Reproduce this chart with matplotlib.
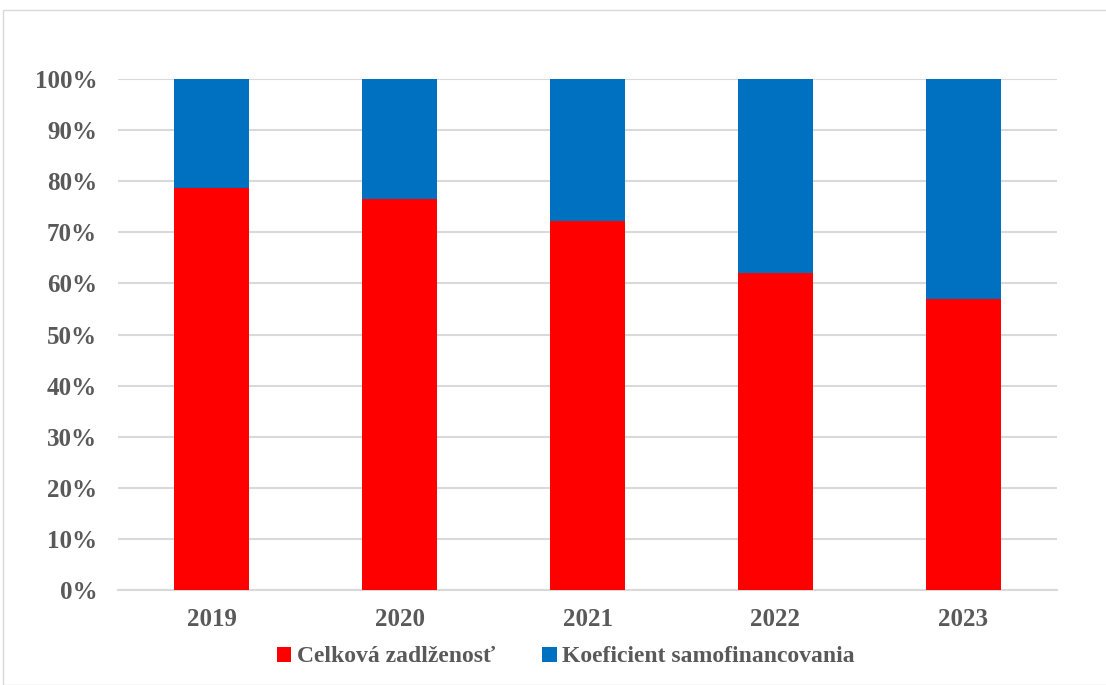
import matplotlib.pyplot as plt
from matplotlib.patches import Rectangle
from matplotlib.ticker import PercentFormatter

years = ['2019', '2020', '2021', '2022', '2023']
zadlzenost = [78.7, 76.5, 72.2, 62.0, 56.9]
samofin = [100 - v for v in zadlzenost]

red = '#FF0000'
blue = '#0070C0'
txt = '#595959'
plt.rcParams['font.family'] = ['Liberation Serif', 'DejaVu Serif']
plt.rcParams['font.weight'] = 'bold'

fig = plt.figure(figsize=(11.06, 6.85), dpi=100)
ax = fig.add_axes([118/1106, 1 - 590/685, (1057-118)/1106, (590-79)/685])

x = range(len(years))
ax.bar(x, zadlzenost, width=0.4, color=red, label='Celková zadlženosť', zorder=3)
ax.bar(x, samofin, width=0.4, bottom=zadlzenost, color=blue, label='Koeficient samofinancovania', zorder=3)

ax.set_xlim(-0.5, len(years) - 0.5)
ax.set_ylim(0, 100)
ax.set_yticks(range(0, 101, 10))
ax.yaxis.set_major_formatter(PercentFormatter(decimals=0))
ax.set_xticks(list(x))
ax.set_xticklabels(years)
ax.grid(axis='y', color='#D9D9D9', linewidth=1.5, zorder=0)
for s in ['top', 'right', 'left']:
    ax.spines[s].set_visible(False)
ax.spines['bottom'].set_color('#D9D9D9')
ax.spines['bottom'].set_linewidth(1.5)
ax.tick_params(axis='both', length=0, labelsize=18, colors=txt)
ax.tick_params(axis='x', pad=13)
ax.tick_params(axis='y', pad=15)
for lab in ax.get_xticklabels() + ax.get_yticklabels():
    lab.set_fontweight('bold')

leg = fig.legend(loc='center', bbox_to_anchor=(566/1106, 1 - 657/685), ncol=2, frameon=False,
                 fontsize=17, handlelength=0.6, handleheight=0.6, handletextpad=0.25, columnspacing=2.0)
for t in leg.get_texts():
    t.set_color(txt)
    t.set_fontweight('bold')

fig.patches.append(Rectangle((3/1106, 0), 1.2, 1 - 10/685, transform=fig.transFigure,
                             fill=False, edgecolor='#D9D9D9', linewidth=1))

fig.savefig('out.png', dpi=100)
